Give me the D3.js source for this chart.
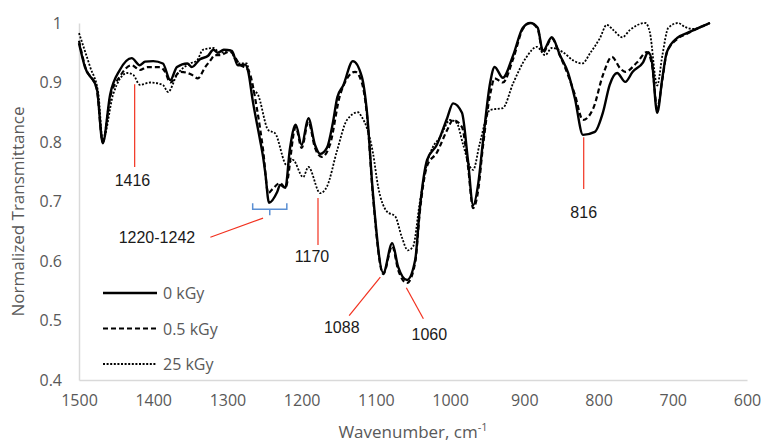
<!DOCTYPE html>
<html>
<head>
<meta charset="utf-8">
<script src="https://cdn.jsdelivr.net/npm/d3@7/dist/d3.min.js"></script>
<style>
  body { margin: 0; background: #fff; }
  svg { display: block; font-family: "Open Sans", sans-serif; }
</style>
</head>
<body>
<div id="chart"></div>
<script>
// wavenumber (cm-1) / normalized transmittance
const wn0 = [1500, 1492, 1476, 1468, 1458, 1445, 1429, 1418, 1411, 1400, 1387, 1377, 1368, 1354, 1348, 1337, 1326, 1319, 1313, 1305, 1294, 1286, 1276, 1272, 1266, 1256, 1252, 1249, 1244, 1233, 1229, 1222, 1216, 1208, 1200, 1191, 1182, 1175, 1166, 1158, 1152, 1144, 1131, 1119, 1112, 1104, 1090, 1078, 1070, 1058, 1047, 1041, 1031, 1018, 1004, 996, 984, 976, 969, 962, 956, 946, 940, 929, 915, 902, 892, 882, 875, 863, 852, 841, 832, 821, 805, 794, 785, 775, 764, 754, 740, 733, 728, 721, 714, 708, 694, 681, 663, 650];
const t0 = [0.966, 0.926, 0.89, 0.798, 0.88, 0.921, 0.941, 0.929, 0.935, 0.936, 0.932, 0.904, 0.926, 0.932, 0.926, 0.939, 0.945, 0.955, 0.95, 0.955, 0.953, 0.929, 0.93, 0.918, 0.87, 0.803, 0.775, 0.748, 0.698, 0.716, 0.728, 0.723, 0.787, 0.829, 0.795, 0.84, 0.795, 0.78, 0.79, 0.832, 0.875, 0.895, 0.936, 0.91, 0.85, 0.714, 0.58, 0.63, 0.59, 0.568, 0.602, 0.686, 0.77, 0.795, 0.84, 0.865, 0.849, 0.77, 0.694, 0.731, 0.798, 0.9, 0.926, 0.908, 0.946, 0.992, 1.0, 0.992, 0.953, 0.976, 0.946, 0.916, 0.874, 0.812, 0.817, 0.85, 0.896, 0.916, 0.901, 0.918, 0.934, 0.951, 0.934, 0.849, 0.908, 0.951, 0.975, 0.983, 0.993, 1.0];

const wn05 = [1500, 1492, 1476, 1468, 1458, 1445, 1429, 1418, 1408, 1391, 1384, 1377, 1364, 1348, 1340, 1330, 1323, 1317, 1310, 1297, 1283, 1272, 1260, 1252, 1245, 1240, 1229, 1222, 1208, 1200, 1191, 1182, 1173, 1162, 1148, 1128, 1119, 1112, 1104, 1090, 1078, 1070, 1058, 1047, 1041, 1031, 1018, 1004, 996, 984, 976, 969, 962, 956, 946, 940, 929, 915, 902, 892, 882, 875, 863, 852, 841, 832, 821, 807, 794, 782, 771, 764, 748, 735, 728, 721, 714, 708, 694, 681, 663, 650];
const t05 = [0.97, 0.928, 0.888, 0.8, 0.875, 0.91, 0.929, 0.921, 0.926, 0.926, 0.918, 0.9, 0.918, 0.913, 0.907, 0.926, 0.937, 0.946, 0.946, 0.952, 0.93, 0.921, 0.854, 0.787, 0.714, 0.72, 0.731, 0.723, 0.825, 0.79, 0.834, 0.79, 0.775, 0.795, 0.88, 0.918, 0.9, 0.845, 0.71, 0.578, 0.625, 0.585, 0.563, 0.598, 0.68, 0.76, 0.782, 0.82, 0.837, 0.825, 0.76, 0.689, 0.72, 0.79, 0.88, 0.907, 0.9, 0.94, 0.99, 1.0, 0.99, 0.95, 0.974, 0.945, 0.912, 0.88, 0.837, 0.857, 0.913, 0.943, 0.924, 0.918, 0.934, 0.951, 0.93, 0.857, 0.905, 0.95, 0.973, 0.982, 0.993, 1.0];

const wn25 = [1500, 1485, 1474, 1468, 1454, 1435, 1427, 1418, 1404, 1387, 1380, 1368, 1350, 1341, 1333, 1319, 1310, 1297, 1286, 1274, 1267, 1259, 1245, 1236, 1220, 1212, 1198, 1191, 1175, 1166, 1152, 1139, 1124, 1119, 1112, 1104, 1097, 1085, 1074, 1065, 1057, 1050, 1041, 1031, 1023, 1014, 1000, 991, 983, 973, 969, 960, 946, 929, 915, 897, 883, 872, 863, 848, 834, 822, 811, 798, 789, 780, 768, 758, 737, 731, 721, 714, 706, 693, 683, 673, 650];
const t25 = [0.983, 0.926, 0.882, 0.803, 0.88, 0.916, 0.913, 0.896, 0.9, 0.896, 0.884, 0.913, 0.932, 0.937, 0.955, 0.958, 0.95, 0.955, 0.932, 0.932, 0.89, 0.88, 0.82, 0.815, 0.761, 0.77, 0.741, 0.758, 0.714, 0.725, 0.787, 0.837, 0.85, 0.842, 0.823, 0.782, 0.725, 0.683, 0.675, 0.64, 0.618, 0.624, 0.697, 0.765, 0.792, 0.807, 0.837, 0.832, 0.798, 0.758, 0.753, 0.798, 0.854, 0.857, 0.899, 0.943, 0.96, 0.946, 0.958, 0.951, 0.937, 0.932, 0.95, 0.975, 0.997, 0.988, 0.976, 0.988, 1.0, 0.985, 0.895, 0.946, 0.992, 1.0, 0.993, 0.99, 1.0];

const seriesNames = ["0 kGy", "0.5 kGy", "25 kGy"];
const xTicks = [1500, 1400, 1300, 1200, 1100, 1000, 900, 800, 700, 600];
const yTicks = [0.4, 0.5, 0.6, 0.7, 0.8, 0.9, 1];

// peak labels: [label, line from (wn, t) to (wn, t), text at (wn, t)]
const peakLabels = [
  ["1416", [1425, 0.897], [1425, 0.758], [1428, 0.726]],
  ["1220-1242", [1252, 0.672], [1323, 0.640], [1395, 0.630]],
  ["1170", [1178, 0.706], [1178, 0.627], [1186, 0.598]],
  ["1088", [1094, 0.573], [1136, 0.508], [1146, 0.479]],
  ["1060", [1059, 0.555], [1036, 0.503], [1028, 0.467]],
  ["816", [820, 0.808], [820, 0.721], [820, 0.672]]
];
const bracket = { from: 1266, to: 1220, top: 0.697, bottom: 0.687, tip: 0.677 };

const width = 763, height = 445;
const margin = { top: 23, right: 16, bottom: 65, left: 79 };

const svg = d3.select("#chart").append("svg")
  .attr("width", width)
  .attr("height", height);

const x = d3.scaleLinear().domain([1500, 600]).range([margin.left, width - margin.right]);
const y = d3.scaleLinear().domain([0.4, 1]).range([height - margin.bottom, margin.top]);

// axes
const xAxis = svg.append("g")
  .attr("transform", `translate(0,${height - margin.bottom})`)
  .call(d3.axisBottom(x).tickValues(xTicks).tickSize(0).tickPadding(15).tickFormat(d3.format("d")));
const yAxis = svg.append("g")
  .attr("transform", `translate(${margin.left},0)`)
  .call(d3.axisLeft(y).tickValues(yTicks).tickSize(0).tickPadding(17).tickFormat(d => d === 1 ? "1" : d3.format(".1f")(d)));

[xAxis, yAxis].forEach(g => {
  g.select(".domain").attr("stroke", "#d9d9d9").attr("stroke-width", 1.5);
  g.selectAll("text").attr("fill", "#595959").attr("font-size", "16px")
    .attr("font-family", "'Open Sans', sans-serif");
});

svg.append("text")
  .attr("transform", `translate(24,${(margin.top + height - margin.bottom) / 2 + 10}) rotate(-90)`)
  .attr("text-anchor", "middle")
  .attr("fill", "#595959")
  .attr("font-size", "17px")
  .text("Normalized Transmittance");

const xTitle = svg.append("text")
  .attr("x", (margin.left + width - margin.right) / 2)
  .attr("y", 438)
  .attr("text-anchor", "middle")
  .attr("fill", "#595959")
  .attr("font-size", "17px");
xTitle.append("tspan").text("Wavenumber, cm");
xTitle.append("tspan").attr("font-size", "11px").attr("dy", -7).text("-1");

// spectra
const line = d3.line()
  .x(d => x(d[0]))
  .y(d => y(d[1]))
  .curve(d3.curveMonotoneX);

const styles = [
  { width: 2.4, dash: null },
  { width: 2.2, dash: "5,3" },
  { width: 1.8, dash: "2,1.6" }
];
const spectra = [d3.zip(wn0, t0), d3.zip(wn05, t05), d3.zip(wn25, t25)];

spectra.forEach((pts, i) => {
  svg.append("path")
    .datum(pts)
    .attr("fill", "none")
    .attr("stroke", "#000")
    .attr("stroke-width", styles[i].width)
    .attr("stroke-dasharray", styles[i].dash)
    .attr("stroke-linejoin", "round")
    .attr("d", line);
});

// peak annotations
peakLabels.forEach(p => {
  svg.append("line")
    .attr("x1", x(p[1][0])).attr("y1", y(p[1][1]))
    .attr("x2", x(p[2][0])).attr("y2", y(p[2][1]))
    .attr("stroke", "#f2311f")
    .attr("stroke-width", 1.2);
  svg.append("text")
    .attr("x", x(p[3][0]))
    .attr("y", y(p[3][1]))
    .attr("text-anchor", "middle")
    .attr("font-family", "'Liberation Sans', Arial, sans-serif")
    .attr("font-size", "16px")
    .attr("fill", "#1a1a1a")
    .text(p[0]);
});

svg.append("path")
  .attr("fill", "none")
  .attr("stroke", "#5b8fd3")
  .attr("stroke-width", 1.5)
  .attr("d", `M${x(bracket.from)},${y(bracket.top)} V${y(bracket.bottom)} H${x(bracket.to)} V${y(bracket.top)}
              M${(x(bracket.from) + x(bracket.to)) / 2},${y(bracket.bottom)} V${y(bracket.tip)}`);

// legend
const legend = svg.append("g").attr("transform", "translate(103,293)");
seriesNames.forEach((name, i) => {
  const row = legend.append("g").attr("transform", `translate(0,${i * 35.5})`);
  row.append("line")
    .attr("x1", 0).attr("x2", 54)
    .attr("stroke", "#000")
    .attr("stroke-width", styles[i].width)
    .attr("stroke-dasharray", styles[i].dash);
  row.append("text")
    .attr("x", 60).attr("y", 6)
    .attr("fill", "#595959")
    .attr("font-size", "16px")
    .text(name);
});
</script>
</body>
</html>
